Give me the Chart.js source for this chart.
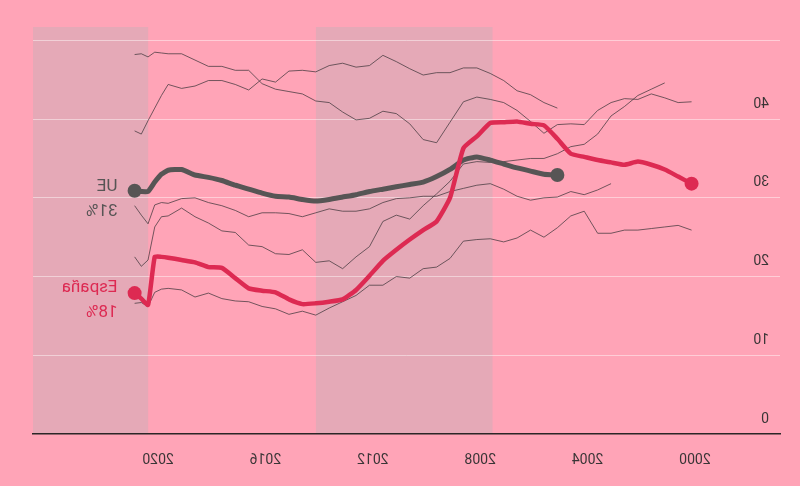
<!DOCTYPE html>
<html>
<head>
<meta charset="utf-8">
<script src="https://cdn.jsdelivr.net/npm/chart.js@4.4.1/dist/chart.umd.min.js"></script>
<style>
  html, body { margin: 0; padding: 0; background: #ffa4b7; }
  #wrap { width: 800px; height: 486px; }
  /* the reference picture is a mirror image, so the whole canvas is flipped */
  #chart { transform: scaleX(-1); }
</style>
</head>
<body>
<div id="wrap"><canvas id="chart" width="800" height="486"></canvas></div>
<script>
// half-year steps, quarterly at the end (decimal years, mid-period)
const periods = [2000.125, 2000.625, 2001.125, 2001.625, 2002.125, 2002.625, 2003.125, 2003.625,
  2004.125, 2004.625, 2005.125, 2005.625, 2006.125, 2006.625, 2007.125, 2007.625, 2008.125, 2008.625,
  2009.125, 2009.625, 2010.125, 2010.625, 2011.125, 2011.625, 2012.125, 2012.625, 2013.125, 2013.625,
  2014.125, 2014.625, 2015.125, 2015.625, 2016.125, 2016.625, 2017.125, 2017.625, 2018.125, 2018.625,
  2019.125, 2019.625, 2019.875, 2020.125, 2020.375, 2020.625, 2020.875];

const spain = [31.8, 32.7, 33.6, 34.2, 34.6, 34.2, 34.5, 34.8, 35.2, 35.6, 37.5, 39.2, 39.4, 39.7, 39.6,
  39.5, 37.8, 36.3, 30.0, 27.0, 25.9, 24.7, 23.4, 22.0, 20.1, 18.3, 17.1, 16.8, 16.6, 16.5, 17.1, 18.0,
  18.2, 18.5, 19.8, 21.1, 21.2, 21.8, 22.1, 22.4, 22.5, 22.5, 16.4, 17.2, 17.9];

const eu = [null, null, null, null, null, null, null, null, null, null, 32.9, 33.0, 33.4, 33.8, 34.3,
  34.8, 35.2, 34.8, 33.6, 32.7, 32.0, 31.7, 31.4, 31.1, 30.8, 30.4, 30.1, 29.8, 29.6, 29.8, 30.1, 30.2,
  30.6, 31.1, 31.6, 32.2, 32.6, 32.9, 33.6, 33.5, 33.0, 32.0, 30.8, 30.8, 30.9];

// other countries, unlabeled thin lines
const countryA = [42.2, 42.1, 42.7, 43.2, 42.5, 42.6, 42.1, 41.1, 39.3, 39.4, 39.3, 38.2, 39.7, 41.1,
  42.1, 42.5, 42.8, 42.2, 39.6, 37.0, 37.4, 39.4, 40.7, 41.0, 40.1, 39.9, 40.9, 42.1, 42.3, 43.2, 43.5,
  43.8, 44.5, 46.2, 46.2, 46.7, 46.7, 47.5, 48.3, 48.3, 48.4, 48.5, 47.9, 48.3, 48.2];
const countryB = [null, null, null, null, null, null, null, null, null, null, 41.4, 42.1, 43.1, 43.6,
  44.9, 45.8, 46.5, 46.5, 45.9, 45.9, 45.6, 46.4, 47.3, 48.1, 46.8, 46.6, 47.1, 46.8, 46.0, 46.2, 46.1,
  44.7, 45.1, 43.7, 44.4, 44.9, 44.9, 44.2, 43.9, 44.4, 43.0, 41.4, 39.8, 38.1, 38.5];
const countryC = [null, null, 44.6, 43.8, 43.0, 41.6, 40.4, 38.1, 36.8, 36.5, 35.6, 35.0, 35.0, 34.8,
  34.6, 34.5, 34.6, 34.3, 32.1, 30.5, 29.0, 27.3, 27.8, 27.0, 23.8, 22.5, 21.0, 22.0, 21.8, 23.4, 22.8,
  22.9, 23.8, 24.0, 25.6, 25.8, 26.8, 27.6, 28.7, 27.7, 27.6, 26.3, 22.1, 21.3, 22.5];
const countryD = [null, null, null, null, null, null, 31.8, 31.0, 30.4, 30.8, 30.1, 30.0, 29.7, 30.2,
  31.1, 31.8, 31.6, 31.2, 30.8, 30.2, 30.2, 30.0, 29.9, 29.4, 28.6, 28.3, 28.3, 28.6, 28.1, 27.6, 28.0,
  28.1, 28.1, 27.6, 28.4, 29.0, 29.4, 30.0, 29.9, 29.3, 29.4, 29.1, 26.7, 27.8, 29.0];
const countryE = [25.9, 26.5, 26.3, 26.1, 25.9, 25.9, 25.5, 25.5, 28.3, 27.7, 26.2, 25.0, 25.9, 24.9,
  24.4, 24.8, 24.7, 24.5, 22.3, 21.2, 21.0, 19.8, 20.0, 18.9, 18.9, 17.6, 16.8, 16.0, 15.1, 15.6, 15.2,
  15.9, 16.2, 16.8, 16.9, 17.2, 17.9, 17.4, 18.3, 18.5, 18.4, 18.0, 16.2, 16.7, 16.6];

const xTicks = [2000, 2004, 2008, 2012, 2016, 2020];
const yTicks = [0, 10, 20, 30, 40, 50];
const bandStart = [2007.54, 2020.37];
const bandEnd = [2014.12, 2024.66];

const PINK = '#ffa4b7';
const RED = '#dd2a52';
const GREY = '#575555';
const THIN = 'rgba(70,58,63,0.85)';

function points(values) {
  return periods.map((p, i) => ({ x: p, y: values[i] }));
}

function endDots(values, r) {
  const first = values.findIndex(v => v !== null);
  const last = values.length - 1;
  return values.map((v, i) => (i === first || i === last) ? r : 0);
}

function thinLine(values) {
  return {
    data: points(values),
    borderColor: THIN,
    borderWidth: 0.9,
    pointRadius: 0,
    tension: 0,
    order: 3
  };
}

const backdrop = {
  id: 'backdrop',
  beforeDraw(chart) {
    const { ctx, chartArea: a, scales: { x } } = chart;
    ctx.save();
    ctx.fillStyle = PINK;
    ctx.fillRect(0, 0, chart.width, chart.height);
    ctx.fillStyle = '#e5a9b7';
    bandStart.forEach((s, i) => {
      const x0 = x.getPixelForValue(s);
      const x1 = Math.min(x.getPixelForValue(bandEnd[i]), a.right);
      ctx.fillRect(x0, a.top, x1 - x0, a.bottom - a.top);
    });
    ctx.restore();
  }
};

const seriesLabels = {
  id: 'seriesLabels',
  afterDatasetsDraw(chart) {
    const ctx = chart.ctx;
    const x = chart.scales.x.getPixelForValue(periods[periods.length - 1]) + 17;
    ctx.save();
    ctx.font = '17px Roboto';
    ctx.textAlign = 'left';
    ctx.textBaseline = 'middle';
    ctx.fillStyle = GREY;
    ctx.fillText('UE', x, 187);
    ctx.fillText('31%', x, 212);
    ctx.fillStyle = RED;
    ctx.fillText('España', x, 288);
    ctx.fillText('18%', x, 313);
    ctx.restore();
  }
};

new Chart('chart', {
  type: 'line',
  data: {
    datasets: [
      {
        data: points(spain),
        borderColor: RED,
        backgroundColor: RED,
        borderWidth: 4.5,
        pointRadius: endDots(spain, 7),
        pointBorderWidth: 0,
        tension: 0.15,
        order: 1
      },
      {
        data: points(eu),
        borderColor: GREY,
        backgroundColor: GREY,
        borderWidth: 5,
        pointRadius: endDots(eu, 7),
        pointBorderWidth: 0,
        tension: 0.15,
        order: 2
      },
      thinLine(countryA),
      thinLine(countryB),
      thinLine(countryC),
      thinLine(countryD),
      thinLine(countryE)
    ]
  },
  options: {
    responsive: false,
    animation: false,
    layout: { padding: { left: 20, right: 33, top: 27, bottom: 0 } },
    plugins: { legend: { display: false }, tooltip: { enabled: false } },
    scales: {
      x: {
        type: 'linear',
        min: 1996.83,
        max: 2024.66,
        afterBuildTicks: s => { s.ticks = xTicks.map(v => ({ value: v })); },
        afterFit: s => { s.height = 52; },
        grid: { display: false },
        border: { display: true, color: '#2b2627', width: 1.5 },
        ticks: {
          padding: 10,
          color: '#3a3536',
          font: { family: 'Roboto', size: 14 },
          callback: v => String(v)
        }
      },
      y: {
        min: 0,
        max: 51.7,
        afterBuildTicks: s => { s.ticks = yTicks.map(v => ({ value: v })); },
        afterFit: s => { s.width = 0; },
        grid: {
          drawTicks: false,
          color: c => c.tick && c.tick.value === 0 ? 'rgba(0,0,0,0)' : 'rgba(255,255,255,0.45)',
          lineWidth: 1
        },
        border: { display: false },
        ticks: {
          mirror: true,
          padding: 11,
          labelOffset: -15,
          color: '#3a3536',
          font: { family: 'Roboto', size: 14 },
          callback: v => v === 50 ? '' : String(v)
        }
      }
    }
  },
  plugins: [backdrop, seriesLabels]
});
</script>
</body>
</html>
